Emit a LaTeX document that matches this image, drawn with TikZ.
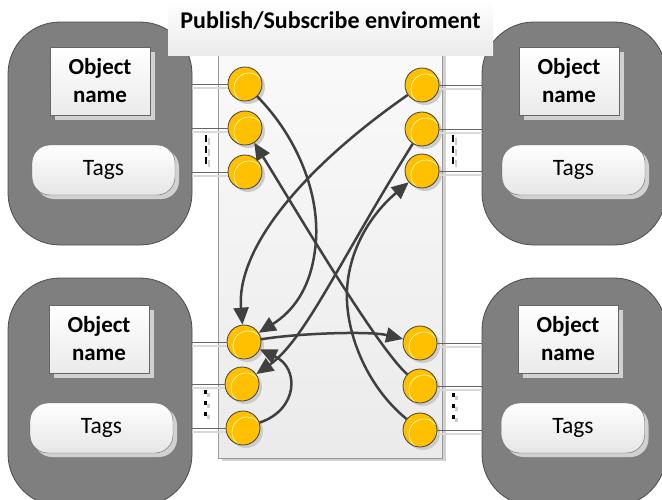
\documentclass[tikz,border=0pt]{standalone}
\usepackage{fontspec}
\setmainfont{Carlito}
\usetikzlibrary{arrows.meta,shadows,calc}
\definecolor{blobgray}{HTML}{7F7F7F}
\definecolor{portfill}{HTML}{FFC000}
\definecolor{ink}{HTML}{404040}
\tikzset{
  group/.style={rectangle,rounded corners=52pt,draw=black!70,fill=blobgray,line width=0.8pt,minimum width=184pt},
  bus/.style={rectangle,draw=black!40,top color=black!2,bottom color=black!8,minimum width=224pt,minimum height=418pt,
    drop shadow={shadow xshift=4pt,shadow yshift=-3pt,fill=black!18,opacity=1}},
  envtitle/.style={rectangle,top color=white,bottom color=black!8,minimum width=325pt,minimum height=55pt,
    text depth=15pt,font=\fontsize{24}{28}\selectfont\bfseries},
  objname/.style={rectangle,draw=black!60,top color=white,bottom color=black!8,minimum width=100pt,minimum height=68pt,
    align=center,font=\fontsize{23}{28}\selectfont\bfseries,
    drop shadow={shadow xshift=5pt,shadow yshift=-5pt,fill=black!18,opacity=1}},
  tagbox/.style={rectangle,rounded corners=18pt,draw=black!60,top color=white,bottom color=black!10,
    minimum width=143pt,minimum height=50pt,font=\fontsize{23.5}{26}\selectfont,
    drop shadow={shadow xshift=4pt,shadow yshift=-4pt,fill=black!18,opacity=1}},
  port/.style={circle,draw=ink,fill=portfill,line width=0.8pt,minimum size=34pt,inner sep=0pt,
    drop shadow={shadow xshift=3pt,shadow yshift=-3pt,fill=black!20,opacity=1},
    path picture={\draw[yellow!35!white,line width=0.7pt] ([xshift=4pt,yshift=-4pt]path picture bounding box.center) circle (15pt);}},
  wire/.style={draw=black!60,line width=1pt},
  wireshade/.style={draw=black!15,line width=1.5pt},
  flow/.style={draw=ink,line width=2.5pt,-{Triangle[length=17pt,width=15pt]}},
  dashmark/.style={line width=2.5pt,dash pattern=on 7pt off 4pt},
  dotmark/.style={line width=3pt,dash pattern=on 4pt off 7pt}
}
\begin{document}
\begin{tikzpicture}[x=1pt,y=-1pt]
\useasboundingbox (0,0) rectangle (662,499);
\clip (0,0) rectangle (662,499);
\node[group,minimum height=223pt] (ga) at (100,133.5) {};
\node[group,minimum height=223pt] (gb) at (574,133.5) {};
\node[group,minimum height=228pt] (gc) at (100,392) {};
\node[group,minimum height=228pt] (gd) at (574,392) {};
\node[bus] (bus) at (330,249) {};
\node[envtitle] (env) at (330.5,27.5) {Publish/Subscribe enviroment};

\node[objname] (na) at (100,81) {Object\\name};
\node[objname] (nb) at (569,81) {Object\\name};
\node[objname] (nc) at (99,339) {Object\\name};
\node[objname] (nd) at (568,339) {Object\\name};
\node[tagbox] (ta) at (103.5,170) {Tags};
\node[tagbox] (tb) at (573.5,170) {Tags};
\node[tagbox] (tc) at (101.5,428) {Tags};
\node[tagbox] (td) at (573,428) {Tags};

\node[port] (a1) at (245,84) {};
\node[port] (a2) at (245,128) {};
\node[port] (a3) at (245,172) {};
\node[port] (b1) at (422,85) {};
\node[port] (b2) at (422,129) {};
\node[port] (b3) at (422,171) {};
\node[port] (c1) at (244,342) {};
\node[port] (c2) at (242,384) {};
\node[port] (c3) at (243,428) {};
\node[port] (d1) at (420,343) {};
\node[port] (d2) at (420,386) {};
\node[port] (d3) at (420,430) {};

\foreach \p in {a1,a2,a3} {
  \draw[wireshade] ($(ga.east |- \p)+(0,4)$) -- ($(\p.west)+(0,4)$);
  \draw[wire] (ga.east |- \p) -- (\p.west);
}
\foreach \p in {c1,c2,c3} {
  \draw[wireshade] ($(gc.east |- \p)+(0,4)$) -- ($(\p.west)+(0,4)$);
  \draw[wire] (gc.east |- \p) -- (\p.west);
}
\foreach \p in {b1,b2,b3} {
  \draw[wireshade] ($(\p.east)+(0,4)$) -- ($(gb.west |- \p)+(0,4)$);
  \draw[wire] (\p.east) -- (gb.west |- \p);
}
\foreach \p in {d1,d2,d3} {
  \draw[wireshade] ($(\p.east)+(0,4)$) -- ($(gd.west |- \p)+(0,4)$);
  \draw[wire] (\p.east) -- (gd.west |- \p);
}

\draw[dashmark,black!20] (209,138) -- (209,167);
\draw[dashmark] (206,135) -- (206,164);
\draw[dashmark,black!20] (456,138) -- (456,167);
\draw[dashmark] (453,135) -- (453,164);
\draw[dotmark,black!20] (208,393) -- (208,423);
\draw[dotmark] (205,390) -- (205,420);
\draw[dotmark,black!20] (456,396) -- (456,426);
\draw[dotmark] (453,393) -- (453,423);

\draw[flow] (a1) .. controls (300,140) and (322,200) .. (315,250) .. controls (310,290) and (292,312) .. (c1);
\draw[flow] (b1) .. controls (300,170) and (236,250) .. (c1);
\draw[flow] (c1) .. controls (300,333) and (370,331) .. (d1);
\draw[flow] (c3) .. controls (298,410) and (300,368) .. (c1);
\draw[flow] (b2) .. controls (340,260) and (305,340) .. (c2);
\draw[flow] (d3) .. controls (365,385) and (345,330) .. (347,290) .. controls (349,250) and (370,215) .. (b3);
\draw[flow] (d2) .. controls (375,345) and (290,200) .. (a2);
\end{tikzpicture}
\end{document}
